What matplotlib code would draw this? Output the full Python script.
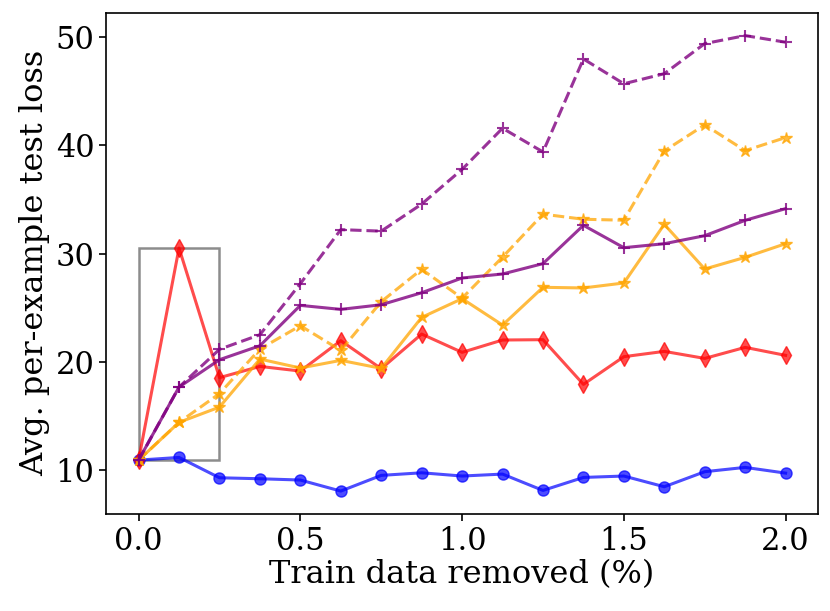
import numpy as np
import matplotlib
matplotlib.use('Agg')
import matplotlib.pyplot as plt
from matplotlib.patches import Rectangle

plt.rcParams['font.family'] = 'DejaVu Serif'

# fraction of train data removed (%)
x = [0.0, 0.125, 0.25, 0.375, 0.5, 0.625, 0.75, 0.875, 1.0,
     1.125, 1.25, 1.375, 1.5, 1.625, 1.75, 1.875, 2.0]

blue_loss = [10.92, 11.17, 9.29, 9.2, 9.08, 8.06, 9.51, 9.75, 9.45,
             9.63, 8.12, 9.32, 9.45, 8.46, 9.85, 10.25, 9.72]
red_loss = [10.92, 30.52, 18.54, 19.58, 19.15, 21.96, 19.37, 22.57, 20.88,
            22.02, 22.05, 17.92, 20.48, 20.97, 20.32, 21.34, 20.6]
orange_loss = [10.92, 14.41, 15.82, 20.26, 19.43, 20.14, 19.4, 24.11, 25.84,
               23.4, 26.89, 26.83, 27.29, 32.71, 28.58, 29.66, 30.92]
orange_dash_loss = [10.92, 14.41, 17.06, 21.19, 23.34, 21.06, 25.56, 28.55, 25.89,
                    29.68, 33.65, 33.18, 33.09, 39.49, 41.9, 39.52, 40.73]
purple_loss = [10.92, 17.67, 20.2, 21.49, 25.22, 24.85, 25.28, 26.39, 27.75,
               28.12, 29.08, 32.62, 30.55, 30.92, 31.66, 33.08, 34.16]
purple_dash_loss = [10.92, 17.67, 21.16, 22.51, 27.23, 32.22, 32.08, 34.58, 37.79,
                    41.59, 39.4, 47.99, 45.7, 46.63, 49.41, 50.15, 49.54]

# highlighted region
box_x = [0.0, 0.25]
box_y = [10.92, 30.49]

fig, ax = plt.subplots(figsize=(8.3, 6.11), dpi=100)
fig.subplots_adjust(left=0.128, right=0.9855, top=0.979, bottom=0.159)

lw = 2.2
ax.plot(x, blue_loss, color='blue', marker='o', markersize=8, lw=lw, alpha=0.7)
ax.plot(x, red_loss, color='red', marker='d', markersize=9, lw=lw, alpha=0.7)
ax.plot(x, orange_loss, color='orange', marker='*', markersize=9, lw=lw, alpha=0.75)
ax.plot(x, orange_dash_loss, color='orange', marker='*', markersize=9, lw=lw, alpha=0.75, ls='--')
ax.plot(x, purple_loss, color='purple', marker='+', markersize=9, lw=lw, alpha=0.8, mew=1.5)
ax.plot(x, purple_dash_loss, color='purple', marker='+', markersize=9, lw=lw, alpha=0.8, mew=1.5, ls='--')

ax.add_patch(Rectangle((box_x[0], box_y[0]), box_x[1] - box_x[0], box_y[1] - box_y[0],
                       fill=False, edgecolor='gray', lw=1.8, alpha=0.9))

ax.set_xticks([0.0, 0.5, 1.0, 1.5, 2.0])
ax.set_yticks([10, 20, 30, 40, 50])
ax.tick_params(labelsize=22, width=1.2, length=5)
for s in ax.spines.values():
    s.set_linewidth(1.2)
ax.set_xlabel('Train data removed (%)', fontsize=23, labelpad=2)
ax.set_ylabel('Avg. per-example test loss', fontsize=23, labelpad=4)

plt.savefig('out.png', dpi=100)
